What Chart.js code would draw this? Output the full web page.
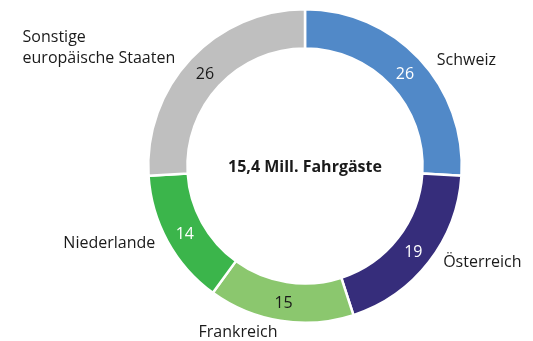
<!DOCTYPE html>
<html>
<head>
<meta charset="utf-8">
<script src="https://cdn.jsdelivr.net/npm/chart.js@4"></script>
<style>
  body { margin: 0; background: #fff; }
  #wrap { width: 533px; height: 341px; }
</style>
</head>
<body>
<div id="wrap"><canvas id="donut" width="533" height="341"></canvas></div>
<script>
/* ---------------------------- Data --------------------------------------------- */

const categories = ['Schweiz', 'Österreich', 'Frankreich', 'Niederlande', ['Sonstige', 'europäische Staaten']]
const shares = [26, 19, 15, 14, 26]
const centerText = '15,4 Mill. Fahrgäste'

const sliceColors = ['#5189c8', '#362d7b', '#8bc76e', '#3bb54b', '#bfbfbf']
const valueColors = ['#fff', '#fff', '#1a1a1a', '#fff', '#1a1a1a']

const FONT = '"Open Sans", "Noto Sans", sans-serif'

// small hand tweaks so the names sit nicely beside the ring
const labelNudge = [[8, 11], [4, -8], [-1, -1], [-1, -4], [-6, -2]]

/* ---------------------------- Labels plugin ------------------------------------ */

const ringLabels = {
    id: 'ringLabels',
    afterDatasetsDraw(chart) {
        const ctx = chart.ctx
        const meta = chart.getDatasetMeta(0)
        ctx.save()
        ctx.textBaseline = 'middle'
        meta.data.forEach((arc, i) => {
            const p = arc.getProps(['x', 'y', 'startAngle', 'endAngle', 'innerRadius', 'outerRadius'], true)
            const mid = (p.startAngle + p.endAngle) / 2
            const cos = Math.cos(mid), sin = Math.sin(mid)

            // value inside the ring
            const rIn = (p.innerRadius + p.outerRadius) / 2
            ctx.font = '16px ' + FONT
            ctx.fillStyle = valueColors[i]
            ctx.textAlign = 'center'
            ctx.fillText(String(shares[i]), p.x + cos * rIn, p.y + sin * rIn + 2)

            // category name outside
            const rOut = p.outerRadius + 13
            const lx = p.x + cos * rOut + labelNudge[i][0]
            const ly = p.y + sin * rOut + labelNudge[i][1]
            const lines = [].concat(categories[i])
            const widest = Math.max(...lines.map(t => ctx.measureText(t).width))
            const left = lx >= p.x ? lx : lx - widest
            ctx.fillStyle = '#1a1a1a'
            ctx.textAlign = 'left'
            const lh = 21.5
            lines.forEach((t, k) => {
                ctx.fillText(t, left, ly + (k - (lines.length - 1) / 2) * lh)
            })
        })

        // center caption
        const c = meta.data[0]
        ctx.font = 'bold 16px ' + FONT
        ctx.fillStyle = '#1a1a1a'
        ctx.textAlign = 'center'
        ctx.fillText(centerText, c.x, c.y + 1)
        ctx.restore()
    }
}

/* ---------------------------- Chart -------------------------------------------- */

new Chart(document.getElementById('donut'), {
    type: 'doughnut',
    data: {
        labels: categories.map(c => [].concat(c).join(' ')),
        datasets: [{
            data: shares,
            backgroundColor: sliceColors,
            borderColor: '#fff',
            borderWidth: 2.5
        }]
    },
    options: {
        responsive: false,
        animation: false,
        devicePixelRatio: 1,
        cutout: '75%',
        layout: { padding: { left: 147, right: 70, top: 8, bottom: 17 } },
        plugins: {
            legend: { display: false },
            tooltip: { enabled: false }
        }
    },
    plugins: [ringLabels]
})
</script>
</body>
</html>
